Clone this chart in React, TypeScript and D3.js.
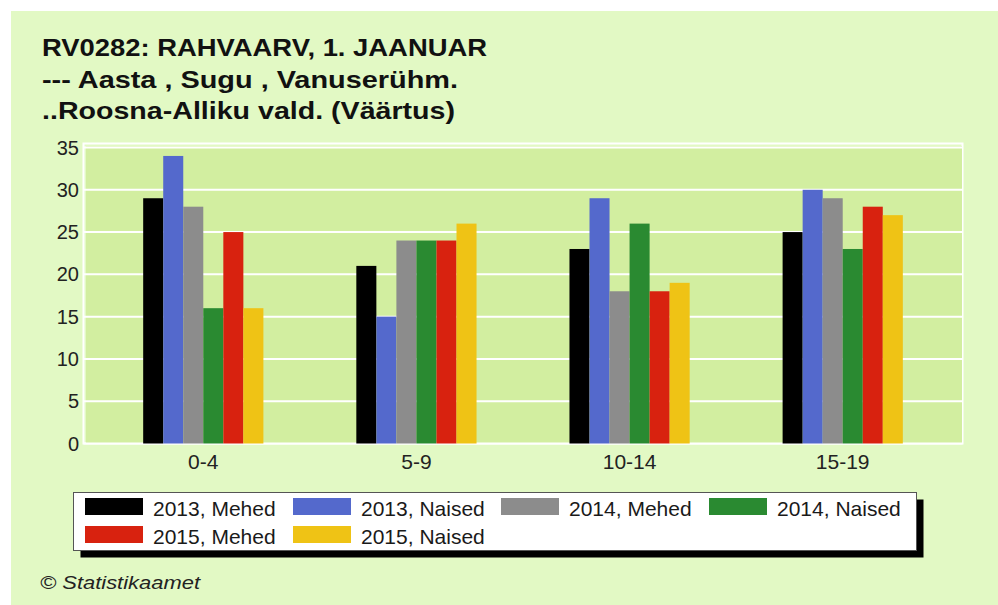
import React from "react";
import * as d3 from "d3";

const categories = ["0-4", "5-9", "10-14", "15-19"];
const seriesNames = ["2013, Mehed", "2013, Naised", "2014, Mehed", "2014, Naised", "2015, Mehed", "2015, Naised"];
const seriesColors = ["#000000", "#5469cc", "#8c8c8c", "#2a8a31", "#d8220f", "#efc315"];
const values2013Mehed = [29, 21, 23, 25];
const values2013Naised = [34, 15, 29, 30];
const values2014Mehed = [28, 24, 18, 29];
const values2014Naised = [16, 24, 26, 23];
const values2015Mehed = [25, 24, 18, 28];
const values2015Naised = [16, 26, 19, 27];
const yTicks = [0, 5, 10, 15, 20, 25, 30, 35];
const titleLines = [
  "RV0282: RAHVAARV, 1. JAANUAR",
  "--- Aasta , Sugu , Vanuserühm.",
  "..Roosna-Alliku vald. (Väärtus)",
];
const titleWidths = [445, 416, 413];

const seriesValues = [
  values2013Mehed,
  values2013Naised,
  values2014Mehed,
  values2014Naised,
  values2015Mehed,
  values2015Naised,
];

export default function App() {
  const W = 998;
  const H = 605;
  const plotL = 83.5;
  const plotR = 962.5;
  const plotT = 143.5;
  const plotB = 443.5;

  const x0 = d3
    .scaleBand<string>()
    .domain(categories)
    .range([plotL, plotR])
    .paddingInner(0.436)
    .paddingOuter(0.28);
  const x1 = d3
    .scaleBand<string>()
    .domain(seriesNames)
    .range([0, x0.bandwidth()]);
  const y = d3.scaleLinear().domain([0, 35]).range([plotB, 147.5]);

  const font = "'Liberation Sans', Arial, sans-serif";

  return (
    <svg
      width={W}
      height={H}
      style={{ position: "absolute", left: 0, top: 0 }}
      fontFamily={font}
    >
      <rect x={0} y={0} width={W} height={H} fill="#ffffff" />
      <rect x={11} y={11} width={W - 11} height={H - 11} fill="#e2f9c4" />

      {titleLines.map((t, i) => (
        <text
          key={i}
          x={42}
          y={56 + i * 31.7}
          fontSize={24}
          fontWeight="bold"
          fill="#111"
          textLength={titleWidths[i]}
          lengthAdjust="spacingAndGlyphs"
        >
          {t}
        </text>
      ))}

      {/* plot frame */}
      <rect
        x={plotL}
        y={plotT}
        width={plotR - plotL}
        height={plotB - plotT}
        fill="#e2f9c4"
        stroke="#ffffff"
        strokeWidth={2}
      />
      <rect
        x={plotL + 2.5}
        y={plotT + 2.5}
        width={plotR - plotL - 3}
        height={plotB - plotT - 3}
        fill="#d2eea0"
      />

      {yTicks.map((t) => (
        <g key={t}>
          <line
            x1={plotL}
            x2={plotR}
            y1={y(t)}
            y2={y(t)}
            stroke="#ffffff"
            strokeWidth={2}
          />
          <text
            x={79}
            y={y(t) + 7}
            textAnchor="end"
            fontSize={20}
            fill="#222"
          >
            {t}
          </text>
        </g>
      ))}

      {categories.map((c, ci) => (
        <g key={c} transform={`translate(${x0(c)},0)`}>
          {seriesNames.map((s, si) => {
            const v = seriesValues[si][ci];
            return (
              <rect
                key={s}
                x={x1(s)}
                y={y(v)}
                width={x1.bandwidth()}
                height={plotB - y(v)}
                fill={seriesColors[si]}
              />
            );
          })}
          <text
            x={x0.bandwidth() / 2}
            y={469}
            textAnchor="middle"
            fontSize={21}
            fill="#222"
          >
            {c}
          </text>
        </g>
      ))}

      {/* legend */}
      <rect x={80.5} y={499.5} width={843} height={58} fill="#000" />
      <rect
        x={73.5}
        y={492.5}
        width={843}
        height={58}
        fill="#ffffff"
        stroke="#555"
        strokeWidth={1}
      />
      {seriesNames.map((s, i) => {
        const col = i % 4;
        const row = Math.floor(i / 4);
        const sx = 85 + col * 208;
        const sy = 498 + row * 28;
        return (
          <g key={s}>
            <rect x={sx} y={sy} width={58} height={17} fill={seriesColors[i]} />
            <text x={sx + 68} y={sy + 17.5} fontSize={21} fill="#1a1a1a">
              {s}
            </text>
          </g>
        );
      })}

      <text
        x={40}
        y={589}
        fontSize={19}
        fontStyle="italic"
        fill="#222"
        textLength={160}
        lengthAdjust="spacingAndGlyphs"
      >
        © Statistikaamet
      </text>
    </svg>
  );
}
